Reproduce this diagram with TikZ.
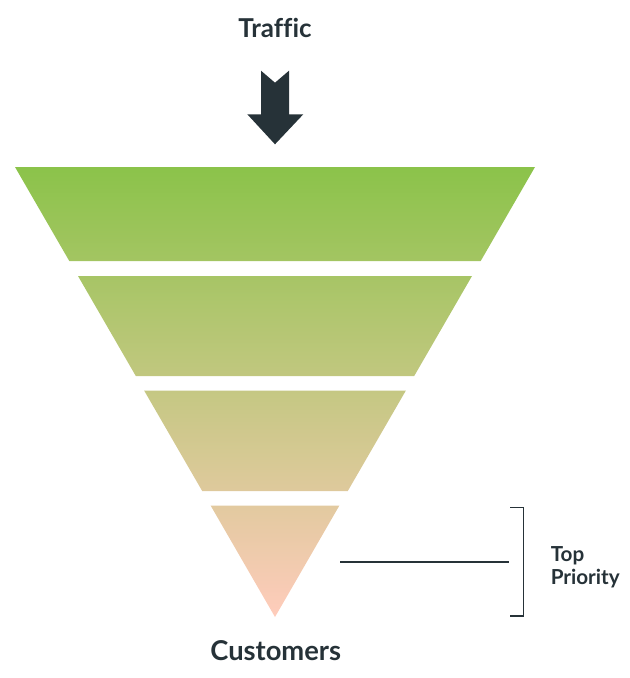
\documentclass[tikz,border=0pt]{standalone}
\usepackage{fontspec}
\newfontfamily\labfont[Ligatures=NoCommon]{Lato}
\definecolor{ink}{HTML}{263238}
\definecolor{ftop}{HTML}{8BC34A}
\definecolor{fbot}{HTML}{FFCCBC}
\tikzset{
  lbl/.style={font=\labfont\bfseries, text=ink, inner sep=0pt, anchor=base},
  conn/.style={draw=ink, line width=0.8pt},
}
\begin{document}
\begin{tikzpicture}[x=0.75pt,y=-0.75pt]
\useasboundingbox (0,0) rectangle (629,678);
% labels
\node[lbl, font=\labfont\bfseries\fontsize{19.5}{23}\selectfont] (traffic) at (275,37.7) {Traffic};
\node[lbl, font=\labfont\bfseries\fontsize{20.5}{24}\selectfont] (customers) at (275.7,660) {Customers};
\node[lbl, anchor=base west, font=\labfont\bfseries\fontsize{15.5}{18}\selectfont] (top) at (550.5,561.7) {Top};
\node[lbl, anchor=base west, font=\labfont\bfseries\fontsize{15.5}{18}\selectfont] (prio) at (550.5,584) {Priority};
% arrow
\fill[ink] (261,70.7) -- (275,82.7) -- (289,70.7) -- (289,114.3) -- (303.3,114.3)
  -- (275,144.3) -- (247.3,114.3) -- (261,114.3) -- cycle;
% funnel
\begin{scope}
  \clip (15,167) -- (535,167) -- (480.7,261) -- (69.3,261) -- cycle
        (78,276) -- (472,276) -- (414.2,376) -- (135.8,376) -- cycle
        (144.1,390.5) -- (405.9,390.5) -- (347.8,491) -- (202.2,491) -- cycle
        (210.6,505.5) -- (339.4,505.5) -- (275,617) -- cycle;
  \shade[top color=ftop, bottom color=fbot] (0,167) rectangle (629,617);
\end{scope}
% connector and bracket
\coordinate (lineA) at (340,562);
\coordinate (lineB) at (509,562);
\coordinate (brT) at (510,507.3);
\coordinate (brB) at (510,616);
\draw[conn] (lineA) -- (lineB);
\draw[conn] (brT) -- ++(13.3,0) |- (brB);
\end{tikzpicture}
\end{document}
